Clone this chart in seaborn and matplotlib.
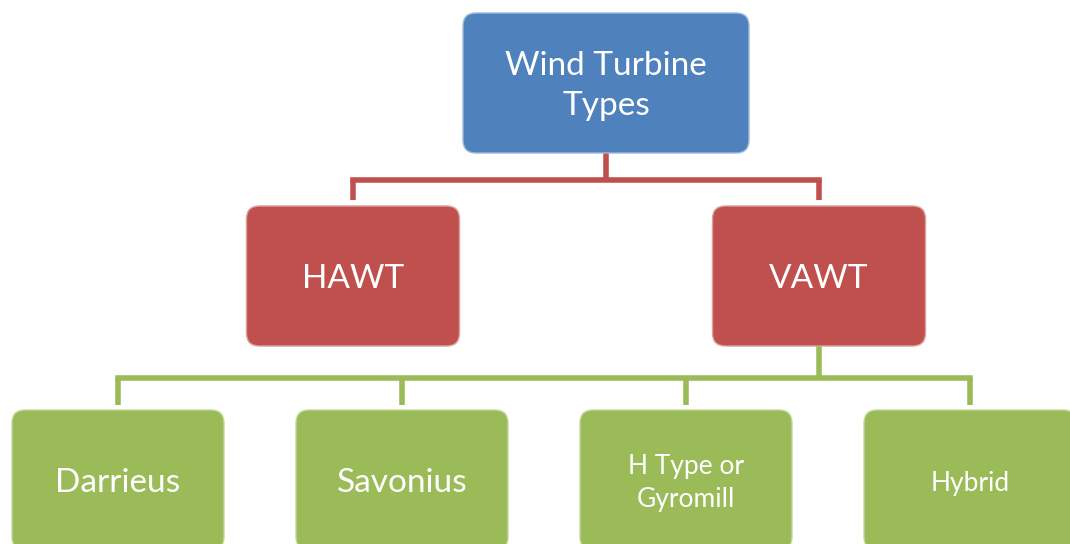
import matplotlib
matplotlib.use("Agg")
import matplotlib.pyplot as plt
import seaborn as sns
from matplotlib.patches import FancyBboxPatch

# Tree content
root_label = "Wind Turbine\nTypes"
level1_labels = ["HAWT", "VAWT"]
level2_labels = ["Darrieus", "Savonius", "H Type or\nGyromill", "Hybrid"]
level2_parent = "VAWT"
level2_font = [24, 24, 19, 19]

sns.set_theme(style="white")
plt.rcParams['font.family'] = ['Lato', 'DejaVu Sans']

# Office-style palette: blue, red, green
blue, red, green = "#4F81BD", "#C0504D", "#9BBB59"

# Layout (pixel space, y pointing down)
root_cx, root_w = 606, 286
l1_cx, l1_w = [353, 819], 213
l2_cx, l2_w = [118 + 284 * i for i in range(len(level2_labels))], 212
row_top = [13, 206, 410]
box_h = 140
bus_y = [180, 378]
drop_end = [200, 405]

fig = plt.figure(figsize=(10.7, 5.44), dpi=100)
ax = fig.add_axes([0, 0, 1, 1])
ax.set_xlim(0, 1070)
ax.set_ylim(544, 0)
ax.axis("off")


def draw_box(cx, w, top, label, color, size):
    box = FancyBboxPatch((cx - w / 2, top), w, box_h,
                         boxstyle="round,pad=0,rounding_size=13",
                         facecolor=color, edgecolor=sns.light_palette(color, 5)[2],
                         linewidth=1, zorder=3)
    ax.add_patch(box)
    # small downward nudge so the text sits like the reference
    ax.text(cx, top + box_h / 2 + 3, label, color="white", fontsize=size,
            ha="center", va="center", linespacing=1.38, zorder=4)


def draw_connector(parent_cx, parent_bottom, child_cx, y_bus, y_end, color):
    ax.plot([parent_cx, parent_cx], [parent_bottom, y_bus], color=color,
            lw=4, solid_capstyle="butt", zorder=2)
    ax.plot([min(child_cx), max(child_cx)], [y_bus, y_bus], color=color,
            lw=4, solid_capstyle="projecting", zorder=2)
    for c in child_cx:
        ax.plot([c, c], [y_bus, y_end], color=color, lw=4,
                solid_capstyle="butt", zorder=2)


# connectors
draw_connector(root_cx, row_top[0] + box_h, l1_cx, bus_y[0], drop_end[0], red)
parent_x = l1_cx[level1_labels.index(level2_parent)]
draw_connector(parent_x, row_top[1] + box_h, l2_cx, bus_y[1], drop_end[1], green)

# boxes
draw_box(root_cx, root_w, row_top[0], root_label, blue, 24)
for cx, lab in zip(l1_cx, level1_labels):
    draw_box(cx, l1_w, row_top[1], lab, red, 24)
for cx, lab, fs in zip(l2_cx, level2_labels, level2_font):
    draw_box(cx, l2_w, row_top[2], lab, green, fs)

fig.savefig("out.png", dpi=100)
